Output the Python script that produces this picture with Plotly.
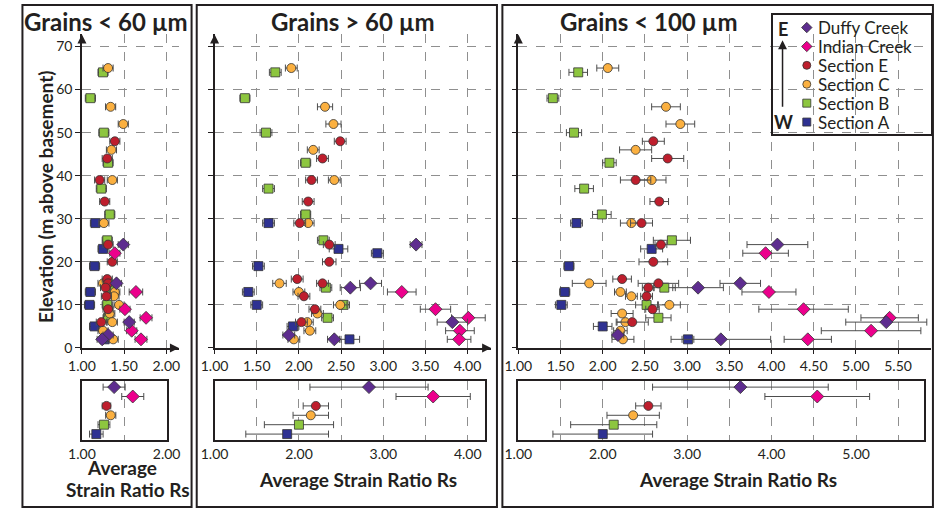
import plotly.graph_objects as go

W, H = 945, 510
FONT = "Lato"
INK = "#231f20"

SERIES = ["Duffy Creek", "Indian Creek", "Section E", "Section C", "Section B", "Section A"]
BOTTOM_ORDER = ["Section A", "Section B", "Section C", "Section E", "Indian Creek", "Duffy Creek"]

# ---------------- Grains < 60 µm ----------------
lt60_duffy_rs = [1.49, 1.41, 1.56, 1.31, 1.24]
lt60_duffy_m = [24, 15, 6, 3, 2]
lt60_duffy_err = [0.06, 0.06, 0.06, 0.06, 0.06]
lt60_indian_rs = [1.39, 1.64, 1.51, 1.76, 1.59, 1.70]
lt60_indian_m = [22, 13, 9, 7, 4, 2]
lt60_indian_err = [0.06, 0.08, 0.06, 0.07, 0.06, 0.07]
lt60_secE_rs = [1.39, 1.30, 1.21, 1.27, 1.31, 1.36, 1.30, 1.31, 1.28, 1.29, 1.31, 1.23]
lt60_secE_m = [48, 44, 39, 34, 24, 20, 16, 15, 14, 12, 9, 6]
lt60_secE_err = [0.06, 0.06, 0.06, 0.06, 0.06, 0.06, 0.06, 0.06, 0.06, 0.06, 0.06, 0.06]
lt60_secC_rs = [1.31, 1.34, 1.49, 1.35, 1.36, 1.26, 1.25, 1.39, 1.38, 1.44, 1.33, 1.36, 1.25, 1.37]
lt60_secC_m = [65, 56, 52, 46, 39, 29, 15, 13, 12, 10, 8, 6, 4, 2]
lt60_secC_err = [0.06, 0.06, 0.06, 0.06, 0.06, 0.06, 0.06, 0.06, 0.06, 0.06, 0.06, 0.06, 0.06, 0.06]
lt60_secB_rs = [1.25, 1.10, 1.26, 1.31, 1.23, 1.33, 1.30, 1.33, 1.30, 1.31]
lt60_secB_m = [64, 58, 50, 43, 37, 31, 25, 14, 10, 7]
lt60_secB_err = [0.06, 0.06, 0.06, 0.06, 0.06, 0.06, 0.06, 0.06, 0.06, 0.06]
lt60_secA_rs = [1.16, 1.25, 1.15, 1.10, 1.09, 1.15, 1.27]
lt60_secA_m = [29, 23, 19, 13, 10, 5, 2]
lt60_secA_err = [0.06, 0.06, 0.06, 0.06, 0.06, 0.06, 0.06]

# ---------------- Grains > 60 µm ----------------
gt60_duffy_rs = [3.39, 2.85, 2.61, 3.82, 1.88, 2.42]
gt60_duffy_m = [24, 15, 14, 6, 3, 2]
gt60_duffy_err = [0.07, 0.13, 0.12, 0.18, 0.07, 0.08]
gt60_indian_rs = [3.22, 3.62, 4.01, 3.91, 3.90]
gt60_indian_m = [13, 9, 7, 4, 2]
gt60_indian_err = [0.17, 0.18, 0.20, 0.17, 0.14]
gt60_secE_rs = [2.49, 2.28, 2.15, 2.11, 2.01, 2.36, 2.36, 1.98, 2.28, 2.06, 2.19, 2.03]
gt60_secE_m = [48, 44, 39, 34, 29, 24, 20, 16, 15, 12, 9, 6]
gt60_secE_err = [0.07, 0.07, 0.07, 0.07, 0.07, 0.07, 0.08, 0.07, 0.07, 0.07, 0.07, 0.07]
gt60_secC_rs = [1.91, 2.31, 2.41, 2.17, 2.42, 2.11, 1.77, 2.00, 2.49, 2.22, 2.10, 2.13, 1.94]
gt60_secC_m = [65, 56, 52, 46, 39, 29, 15, 13, 10, 8, 6, 4, 2]
gt60_secC_err = [0.07, 0.09, 0.09, 0.07, 0.07, 0.07, 0.08, 0.07, 0.08, 0.07, 0.07, 0.07, 0.07]
gt60_secB_rs = [1.72, 1.36, 1.61, 2.08, 1.64, 2.08, 2.29, 2.32, 2.53, 2.34]
gt60_secB_m = [64, 58, 50, 43, 37, 31, 25, 14, 10, 7]
gt60_secB_err = [0.07, 0.06, 0.07, 0.06, 0.07, 0.06, 0.07, 0.07, 0.07, 0.07]
gt60_secA_rs = [1.64, 2.47, 2.93, 1.52, 1.40, 1.50, 1.93, 2.60]
gt60_secA_m = [29, 23, 22, 19, 13, 10, 5, 2]
gt60_secA_err = [0.07, 0.11, 0.07, 0.07, 0.07, 0.07, 0.07, 0.12]

# ---------------- Grains < 100 µm ----------------
lt100_duffy_rs = [4.07, 3.63, 3.13, 5.36, 2.18, 3.40]
lt100_duffy_m = [24, 15, 14, 6, 3, 2]
lt100_duffy_err = [0.36, 0.24, 0.30, 0.48, 0.07, 0.59]
lt100_indian_rs = [3.93, 3.97, 4.38, 5.40, 5.18, 4.43]
lt100_indian_m = [22, 13, 9, 7, 4, 2]
lt100_indian_err = [0.27, 0.32, 0.53, 0.34, 0.59, 0.28]
lt100_secE_rs = [2.60, 2.77, 2.39, 2.67, 2.46, 2.69, 2.60, 2.23, 2.66, 2.54, 2.52, 2.59, 2.35]
lt100_secE_m = [48, 44, 39, 34, 29, 24, 20, 16, 15, 14, 12, 9, 6]
lt100_secE_err = [0.13, 0.19, 0.18, 0.11, 0.13, 0.07, 0.17, 0.11, 0.24, 0.07, 0.07, 0.08, 0.19]
lt100_secC_rs = [2.06, 2.75, 2.92, 2.39, 2.58, 2.34, 1.84, 2.21, 2.34, 2.79, 2.23, 2.27, 2.21, 2.24]
lt100_secC_m = [65, 56, 52, 46, 39, 29, 15, 13, 12, 10, 8, 6, 4, 2]
lt100_secC_err = [0.13, 0.17, 0.17, 0.19, 0.17, 0.13, 0.20, 0.07, 0.07, 0.13, 0.13, 0.10, 0.08, 0.13]
lt100_secB_rs = [1.71, 1.41, 1.66, 2.08, 1.78, 1.99, 2.82, 2.73, 2.52, 2.66]
lt100_secB_m = [64, 58, 50, 43, 37, 31, 25, 14, 10, 7]
lt100_secB_err = [0.11, 0.07, 0.09, 0.08, 0.11, 0.11, 0.22, 0.13, 0.13, 0.15]
lt100_secA_rs = [1.69, 2.58, 1.60, 1.55, 1.51, 2.00, 3.01]
lt100_secA_m = [29, 23, 19, 13, 10, 5, 2]
lt100_secA_err = [0.07, 0.13, 0.06, 0.06, 0.07, 0.11, 0.07]

# ---------------- Averages (order = SERIES) ----------------
avg_lt60_rs = [1.38, 1.60, 1.29, 1.34, 1.26, 1.17]
avg_lt60_err = [0.13, 0.13, 0.05, 0.06, 0.07, 0.08]
avg_gt60_rs = [2.83, 3.59, 2.20, 2.14, 2.00, 1.86]
avg_gt60_err = [0.70, 0.44, 0.15, 0.21, 0.41, 0.49]
avg_lt100_rs = [3.63, 4.54, 2.54, 2.36, 2.13, 2.00]
avg_lt100_err = [1.04, 0.62, 0.15, 0.31, 0.51, 0.59]

STYLE = {
    "Duffy Creek": dict(symbol="diamond", color="#5e2d8f", size=10),
    "Indian Creek": dict(symbol="diamond", color="#ec008c", size=10),
    "Section E": dict(symbol="circle", color="#be1e2d", size=9),
    "Section C": dict(symbol="circle", color="#fbb040", size=9),
    "Section B": dict(symbol="square", color="#8dc63f", size=9),
    "Section A": dict(symbol="square", color="#2e3192", size=9),
}

panels = [
    [(lt60_duffy_rs, lt60_duffy_m, lt60_duffy_err), (lt60_indian_rs, lt60_indian_m, lt60_indian_err),
     (lt60_secE_rs, lt60_secE_m, lt60_secE_err), (lt60_secC_rs, lt60_secC_m, lt60_secC_err),
     (lt60_secB_rs, lt60_secB_m, lt60_secB_err), (lt60_secA_rs, lt60_secA_m, lt60_secA_err)],
    [(gt60_duffy_rs, gt60_duffy_m, gt60_duffy_err), (gt60_indian_rs, gt60_indian_m, gt60_indian_err),
     (gt60_secE_rs, gt60_secE_m, gt60_secE_err), (gt60_secC_rs, gt60_secC_m, gt60_secC_err),
     (gt60_secB_rs, gt60_secB_m, gt60_secB_err), (gt60_secA_rs, gt60_secA_m, gt60_secA_err)],
    [(lt100_duffy_rs, lt100_duffy_m, lt100_duffy_err), (lt100_indian_rs, lt100_indian_m, lt100_indian_err),
     (lt100_secE_rs, lt100_secE_m, lt100_secE_err), (lt100_secC_rs, lt100_secC_m, lt100_secC_err),
     (lt100_secB_rs, lt100_secB_m, lt100_secB_err), (lt100_secA_rs, lt100_secA_m, lt100_secA_err)],
]
averages = [(avg_lt60_rs, avg_lt60_err), (avg_gt60_rs, avg_gt60_err), (avg_lt100_rs, avg_lt100_err)]


def xd(a, b):
    return [a / W, min(b / W, 1.0)]


def yd(top, bottom):
    return [max(1 - bottom / H, 0.0), 1 - top / H]


fig = go.Figure()


def marker(name, size=None):
    s = STYLE[name]
    return dict(symbol=s["symbol"], color=s["color"], size=size or s["size"],
                line=dict(color="#333333", width=0.8))


def err(arr):
    return dict(type="data", array=arr, color="#4d4d4d", thickness=1, width=3.5)


# draw sections first, creeks on top
draw_order = [5, 4, 3, 2, 1, 0]
for p, pdata in enumerate(panels):
    for i in draw_order:
        name = SERIES[i]
        rs, m, e = pdata[i]
        fig.add_trace(go.Scatter(
            x=rs, y=m, mode="markers", name=name, showlegend=False, marker=marker(name), error_x=err(e),
            xaxis="x" if p == 0 else f"x{p + 1}", yaxis="y" if p == 0 else f"y{p + 1}",
            cliponaxis=False,
        ))

for p, (rs, e) in enumerate(averages):
    for i, name in enumerate(SERIES):
        fig.add_trace(go.Scatter(
            x=[rs[i]], y=[name], mode="markers", name=name, showlegend=False,
            marker=marker(name), error_x=err([e[i]]),
            xaxis=f"x{p + 4}", yaxis=f"y{p + 4}", cliponaxis=False,
        ))

# legend (own small axis so the rows can be spaced like the original)
LEG_MARK_X = 35
LEG_TEXT_X = 45
for name in SERIES:
    fig.add_trace(go.Scatter(x=[LEG_MARK_X], y=[name], mode="markers", showlegend=False, hoverinfo="skip",
                             marker=marker(name, 8), xaxis="x7", yaxis="y7", cliponaxis=False))

GRID = dict(showgrid=True, gridcolor="#8f8f8f", griddash="dash", gridwidth=1, zeroline=False)
TICKFONT = dict(family=FONT, size=14, color=INK)

main_x = [((70, 170), (1.0, 2.15)), ((206.7, 491.7), (1.0, 4.28)), ((519.7, 945), (1.0, 5.89))]
bot_x = [((70, 157.3), (1.0, 2.0)), ((206.7, 485), (1.0, 4.2)), ((519.7, 938.3), (1.0, 5.81))]

layout = dict(
    width=W, height=H, margin=dict(l=0, r=0, t=0, b=0), autosize=False,
    paper_bgcolor="white", plot_bgcolor="rgba(0,0,0,0)",
    font=dict(family=FONT, color=INK),
    showlegend=False,
)

for p in range(3):
    (a, b), rng = main_x[p]
    k = "" if p == 0 else str(p + 1)
    layout["xaxis" + k] = dict(domain=xd(a, b), range=list(rng), anchor="y" + k, dtick=0.5, tick0=1,
                               tickformat=".2f", showline=True, linecolor=INK, linewidth=1.5,
                               ticks="outside", ticklen=4, tickcolor=INK, tickfont=TICKFONT, **GRID)
    layout["yaxis" + k] = dict(domain=yd(35, 353.5), range=[0, 72.8], anchor="x" + k, dtick=10, tick0=0,
                               showline=True, linecolor=INK, linewidth=1.5, ticks="outside", ticklen=5,
                               tickcolor=INK, tickfont=TICKFONT, showticklabels=(p == 0), **GRID)
    (a, b), rng = bot_x[p]
    kb = str(p + 4)
    layout["xaxis" + kb] = dict(domain=xd(a, b), range=list(rng), anchor="y" + kb, dtick=1, tick0=1,
                                tickformat=".2f", showline=True, mirror=True, linecolor=INK, linewidth=1.5,
                                ticks="", tickfont=TICKFONT,
                                minor=dict(dtick=0.5, tick0=1, showgrid=True, gridcolor="#8f8f8f",
                                           griddash="dash", gridwidth=1),
                                **GRID)
    layout["yaxis" + kb] = dict(domain=yd(386.7, 447.3), type="category", categoryorder="array",
                                categoryarray=BOTTOM_ORDER, range=[-0.66, 5.69], anchor="x" + kb,
                                showline=True, mirror=True, linecolor=INK, linewidth=1.5,
                                showticklabels=False, ticks="", showgrid=False, zeroline=False)

# legend box axis
layout["xaxis7"] = dict(domain=xd(782, 945), range=[0, 163], anchor="y7", showline=True, mirror=True,
                        linecolor=INK, linewidth=2, showticklabels=False, ticks="", showgrid=False,
                        zeroline=False)
layout["yaxis7"] = dict(domain=yd(15, 136), type="category", categoryorder="array",
                        categoryarray=BOTTOM_ORDER, range=[-0.625, 5.677], anchor="x7", showline=True,
                        mirror=True, linecolor=INK, linewidth=2, showticklabels=False, ticks="",
                        showgrid=False, zeroline=False)

shapes = []
for (a, b) in [(8.7, 183), (188.3, 497.7), (503.3, 947)]:
    shapes.append(dict(type="rect", xref="paper", yref="paper", x0=a / W, x1=b / W, y0=-0.01, y1=1 - 5 / H,
                       line=dict(color=INK, width=2)))
layout["shapes"] = shapes

ann = []
TITLE_FONT = dict(family=FONT, size=24, color=INK)
for txt, cx in [("<b>Grains < 60 µm</b>", 95), ("<b>Grains > 60 µm</b>", 349), ("<b>Grains < 100 µm</b>", 654)]:
    ann.append(dict(text=txt, x=cx / W, y=1 - 22 / H, xref="paper", yref="paper", showarrow=False,
                    xanchor="center", yanchor="middle", font=TITLE_FONT))
XT_FONT = dict(family=FONT, size=19, color=INK)
ann.append(dict(text="<b>Average</b>", x=111 / W, y=1 - 475 / H, xref="paper", yref="paper",
                showarrow=False, font=XT_FONT, xanchor="center", yanchor="middle"))
ann.append(dict(text="<b>Strain Ratio Rs</b>", x=117 / W, y=1 - 497 / H, xref="paper", yref="paper",
                showarrow=False, font=XT_FONT, xanchor="center", yanchor="middle"))
for cx in (354, 746):
    ann.append(dict(text="<b>Average Strain Ratio Rs</b>", x=cx / W, y=1 - 487 / H, xref="paper", yref="paper",
                    showarrow=False, font=XT_FONT, xanchor="center", yanchor="middle"))
ann.append(dict(text="<b>Elevation (m above basement)</b>", x=33 / W, y=1 - 200 / H, xref="paper",
                yref="paper", showarrow=False, textangle=-90, font=dict(family=FONT, size=19, color=INK),
                xanchor="center", yanchor="middle"))
# axis arrowheads
for p in range(3):
    k = "" if p == 0 else str(p + 1)
    rng = main_x[p][1]
    if p < 2:
        ann.append(dict(x=rng[1], y=0, xref="x" + k, yref="y" + k, ax=-10, ay=0, text="", showarrow=True,
                        arrowhead=2, arrowsize=1.2, arrowwidth=1.5, arrowcolor=INK))
    ann.append(dict(x=1.0, y=72.8, xref="x" + k, yref="y" + k, ax=0, ay=10, text="", showarrow=True,
                    arrowhead=2, arrowsize=1.2, arrowwidth=1.5, arrowcolor=INK))
# legend texts
LEG_FONT = dict(family=FONT, size=17, color=INK)
for name in SERIES:
    ann.append(dict(text=name, x=LEG_TEXT_X, y=name, xref="x7", yref="y7", showarrow=False,
                    xanchor="left", yanchor="middle", font=LEG_FONT))
# E / W arrow in legend
ann.append(dict(text="<b>E</b>", x=792 / W, y=1 - 29 / H, xref="paper", yref="paper", showarrow=False,
                xanchor="center", yanchor="middle", font=dict(family=FONT, size=18, color=INK)))
ann.append(dict(text="<b>W</b>", x=793 / W, y=1 - 124 / H, xref="paper", yref="paper", showarrow=False,
                xanchor="center", yanchor="middle", font=dict(family=FONT, size=18, color=INK)))
ann.append(dict(x=792 / W, y=1 - 41 / H, xref="paper", yref="paper", ax=0, ay=68, text="", showarrow=True,
                arrowhead=2, arrowsize=1.2, arrowwidth=1.5, arrowcolor=INK))
layout["annotations"] = ann

fig.update_layout(**layout)
fig.write_html("out.html", config={"displayModeBar": False},
               post_script="document.body.style.margin='0px';document.body.style.overflow='hidden';")
